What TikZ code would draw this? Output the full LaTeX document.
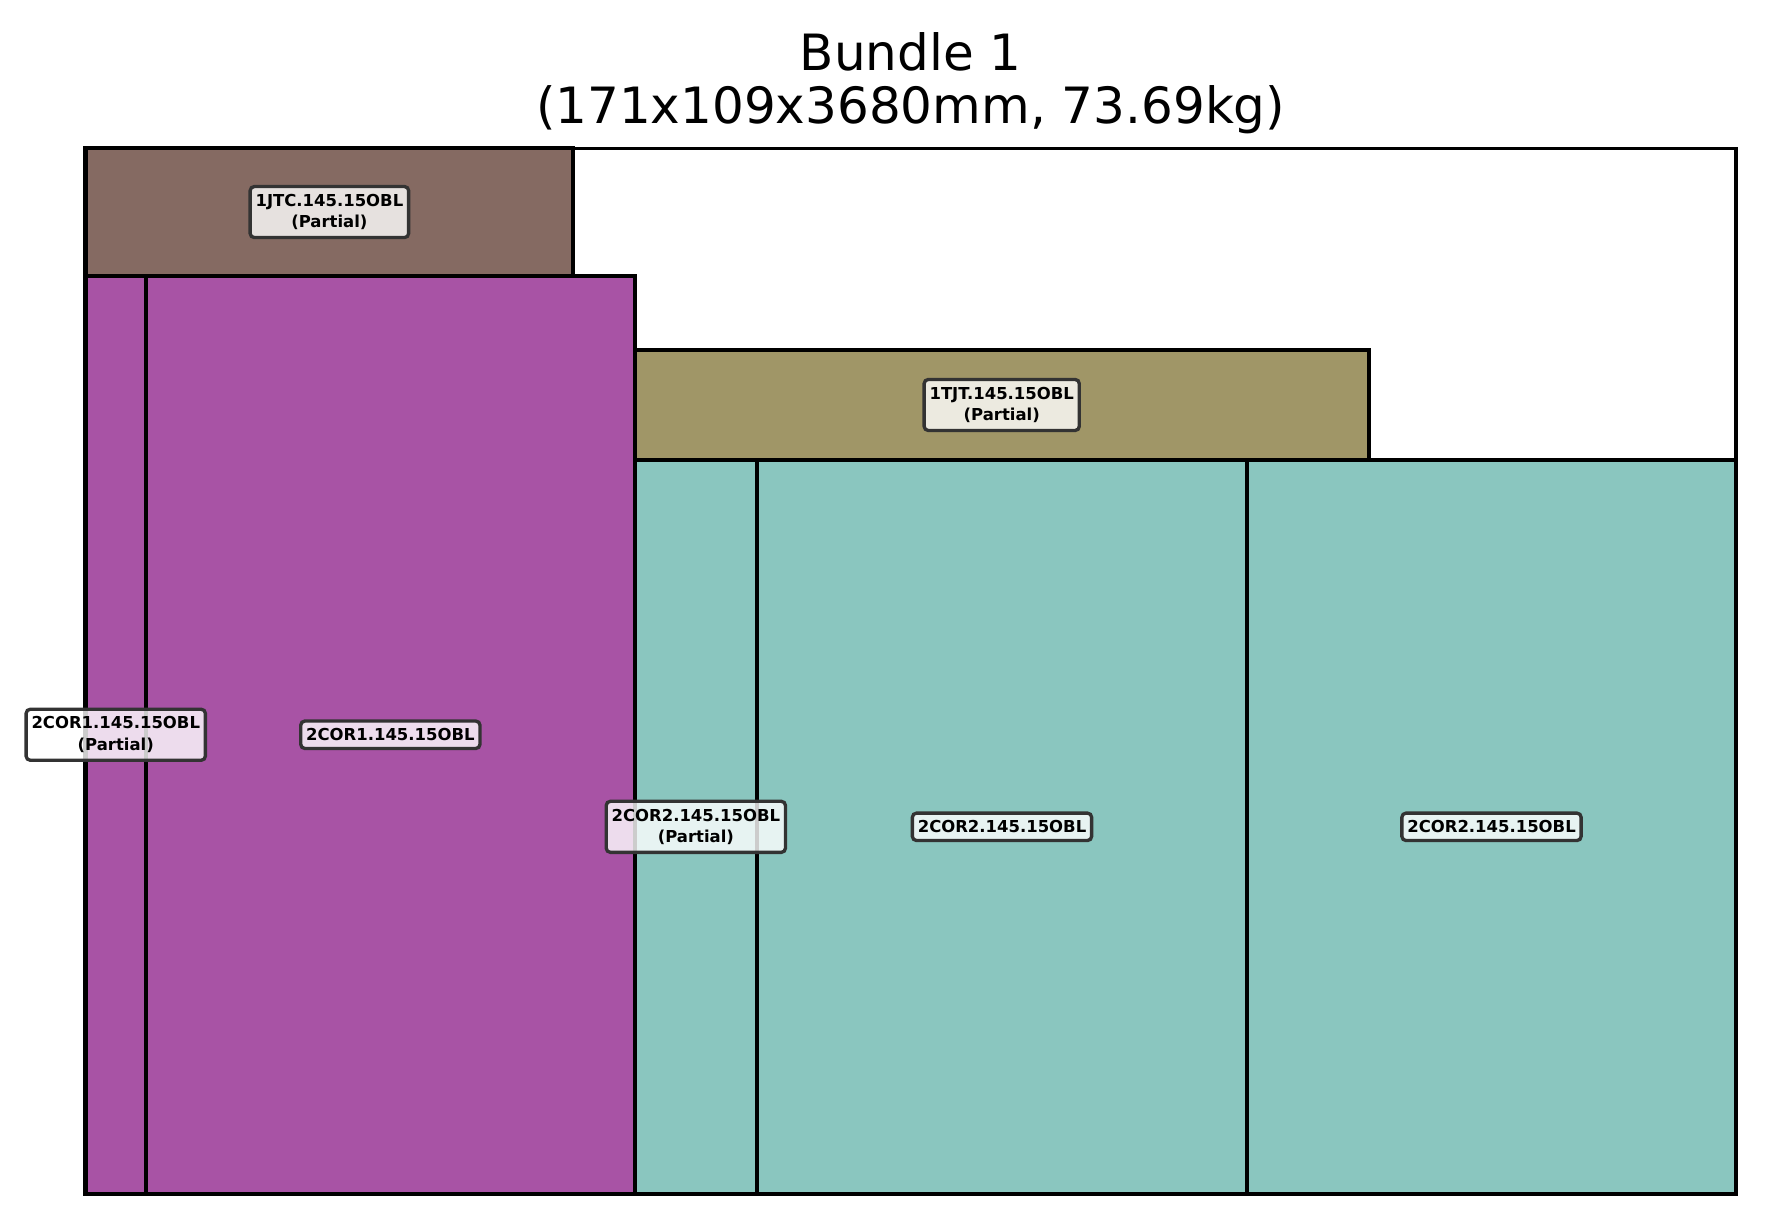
\documentclass[tikz,border=0pt]{standalone}
\usepackage{fontspec}
\setmainfont{DejaVu Sans}
\definecolor{BBrown}{HTML}{856A62}
\definecolor{BPurple}{HTML}{A853A5}
\definecolor{BOlive}{HTML}{A09667}
\definecolor{BTeal}{HTML}{8AC6BF}
\usepackage{tikz}
\usetikzlibrary{positioning,calc}

\tikzset{
  piece/.style={draw=black,line width=1pt},
  tag/.style={rectangle,rounded corners=1pt,draw=black!80,line width=0.8pt,
              fill=white,fill opacity=0.8,text opacity=1,
              inner xsep=1.3pt,inner ysep=1.8pt,
              align=center,font=\fontsize{3.95}{5.2}\selectfont\bfseries},
  heading/.style={anchor=base,font=\fontsize{12}{14}\selectfont}
}

\begin{document}
\begin{tikzpicture}[x=2.3165pt,y=2.3018pt]
    \useasboundingbox (-8.858,-3.159) rectangle (174.11,124.46);
    % bundle outline
    \draw[line width=0.8pt] (0,0) rectangle (171,109);
    % pieces
    \draw[piece,fill=BBrown]  (0,95.7)     rectangle (50.54,109);
    \draw[piece,fill=BPurple] (0,0)        rectangle (6.27,95.7);
    \draw[piece,fill=BPurple] (6.27,0)     rectangle (56.9,95.7);
    \draw[piece,fill=BOlive]  (56.9,76.5)  rectangle (132.95,87.97);
    \draw[piece,fill=BTeal]   (56.9,0)     rectangle (69.57,76.5);
    \draw[piece,fill=BTeal]   (69.57,0)    rectangle (120.34,76.5);
    \draw[piece,fill=BTeal]   (120.34,0)   rectangle (171,76.5);
    % labels
    \node[tag] (jtc)    at (25.27,102.35)  {1JTC.145.15OBL\\(Partial)};
    \node[tag] (corAp)  at (3.135,47.85)   {2COR1.145.15OBL\\(Partial)};
    \node[tag] (corA)   at (31.585,47.85)  {2COR1.145.15OBL};
    \node[tag] (tjt)    at (94.925,82.235) {1TJT.145.15OBL\\(Partial)};
    \node[tag] (corBp)  at (63.235,38.25)  {2COR2.145.15OBL\\(Partial)};
    \node[tag] (corB)   at (94.955,38.25)  {2COR2.145.15OBL};
    \node[tag] (corC)   at (145.67,38.25)  {2COR2.145.15OBL};
    % title
    \node[heading] (title)  at (85.5,117.1) {Bundle 1};
    \node[heading] (detail) at (85.5,111.55)  {(171x109x3680mm, 73.69kg)};
  \end{tikzpicture}
\end{document}
